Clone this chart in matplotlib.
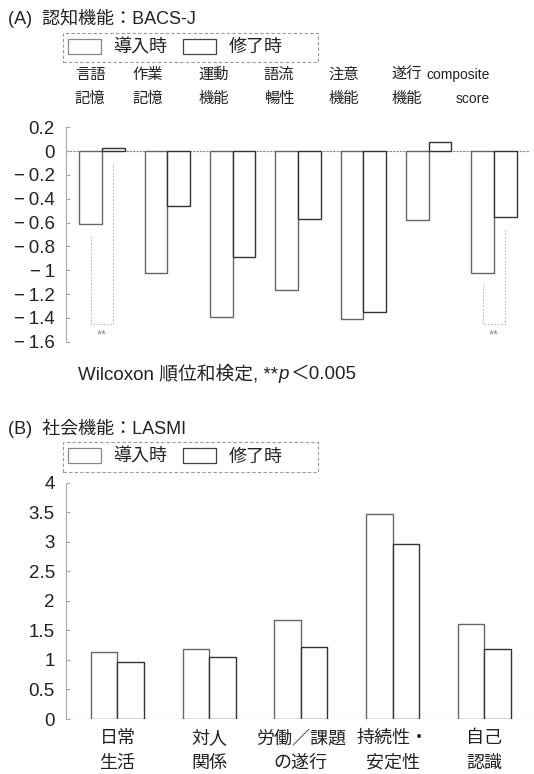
import matplotlib
matplotlib.use('Agg')
import matplotlib.pyplot as plt
import matplotlib.transforms as mtransforms
from matplotlib.patches import Rectangle
import numpy as np

plt.rcParams['font.family'] = ['Liberation Sans', 'Noto Sans CJK JP', 'DejaVu Sans']

# ---------------- data ----------------
legend_labels = ['導入時', '修了時']

cog_title = '(A)  認知機能：BACS-J'
cog_top = ['言語', '作業', '運動', '語流', '注意', '遂行', 'composite']
cog_bottom = ['記憶', '記憶', '機能', '暢性', '機能', '機能', 'score']
cog_pre = [-0.61, -1.02, -1.39, -1.17, -1.41, -0.58, -1.02]
cog_post = [0.03, -0.46, -0.89, -0.57, -1.35, 0.08, -0.55]
cog_sig = [0, 6]
cog_sig_level = -1.45
cog_yticks = [0.2, 0, -0.2, -0.4, -0.6, -0.8, -1, -1.2, -1.4, -1.6]
cog_yticklabels = ['0.2', '0', '\u2212\u20090.2', '\u2212\u20090.4', '\u2212\u20090.6',
                   '\u2212\u20090.8', '\u2212\u20091', '\u2212\u20091.2',
                   '\u2212\u20091.4', '\u2212\u20091.6']
cog_note_parts = ['Wilcoxon 順位和検定, **', 'p', '＜0.005']

soc_title = '(B)  社会機能：LASMI'
soc_top = ['日常', '対人', '労働／課題', '持続性・', '自己']
soc_bottom = ['生活', '関係', 'の遂行', '安定性', '認識']
soc_pre = [1.13, 1.18, 1.67, 3.47, 1.60]
soc_post = [0.96, 1.05, 1.22, 2.97, 1.19]
soc_yticks = [0, 0.5, 1, 1.5, 2, 2.5, 3, 3.5, 4]
soc_yticklabels = ['0', '0.5', '1', '1.5', '2', '2.5', '3', '3.5', '4']

# ---------------- style ----------------
W, H = 534, 774
TXT = '#222222'
PRE_EC = '#666666'
POST_EC = '#333333'
AX_C = '#aaaaaa'

fig = plt.figure(figsize=(W / 100, H / 100), dpi=100)
fig.patch.set_facecolor('white')


def fx(px):
    return px / W


def fy(py):
    return 1 - py / H


def style_axis(ax, yticks, ylabels):
    for s in ['top', 'right', 'bottom']:
        ax.spines[s].set_visible(False)
    ax.spines['left'].set_color(AX_C)
    ax.spines['left'].set_linewidth(0.8)
    ax.spines['left'].set_linestyle((0, (1.5, 1)))
    ax.set_yticks(yticks)
    ax.set_yticklabels(ylabels)
    ax.tick_params(axis='y', direction='in', length=3, color=AX_C,
                   labelsize=13.5, labelcolor=TXT, pad=8)
    ax.axhline(0, color='#888888', lw=0.8, ls=(0, (2, 1)), zorder=1)


def legend_box(y_top, y_bot):
    rect = Rectangle((fx(63), fy(y_bot)), fx(318) - fx(63), fy(y_top) - fy(y_bot),
                     fill=False, ls=(0, (3, 2)), ec='#999999', lw=0.8,
                     transform=fig.transFigure, figure=fig)
    fig.patches.append(rect)
    handles = [Rectangle((0, 0), 1, 1, fc='white', ec='#888888', lw=0.9),
               Rectangle((0, 0), 1, 1, fc='white', ec='#444444', lw=0.9)]
    fig.legend(handles, legend_labels, loc='center left',
               bbox_to_anchor=(fx(68), fy((y_top + y_bot) / 2)),
               ncol=2, frameon=False, handlelength=1.8, handleheight=0.9,
               handletextpad=0.7, columnspacing=0.9, fontsize=13,
               borderaxespad=0, borderpad=0, labelcolor=TXT)


# ---------------- panel A ----------------
fig.text(fx(8), fy(18), cog_title, fontsize=13, color=TXT, va='center', ha='left')
legend_box(33, 62)

axA = fig.add_axes([fx(66), fy(341.7), fx(530) - fx(66), fy(127.3) - fy(341.7)])
xa = np.arange(len(cog_pre))
wa = 0.347
axA.bar(xa - wa / 2, cog_pre, width=wa, facecolor='white', edgecolor=PRE_EC, lw=1.0, zorder=2)
axA.bar(xa + wa / 2, cog_post, width=wa, facecolor='white', edgecolor=POST_EC, lw=1.0, zorder=2)
axA.set_xlim(-0.55, len(cog_pre) - 0.45)
axA.set_ylim(-1.6, 0.2)
axA.set_xticks([])
style_axis(axA, cog_yticks, cog_yticklabels)

for i in cog_sig:
    xl, xr = i - wa / 2, i + wa / 2
    yl = min(cog_pre[i], 0) - 0.1
    yr = min(cog_post[i], 0) - 0.1
    axA.plot([xl, xl, xr, xr], [yl, cog_sig_level, cog_sig_level, yr],
             color='#bbbbbb', lw=0.8, ls=(0, (1.5, 1.5)), zorder=1)
    axA.text(i, cog_sig_level - 0.1, '**', ha='center', va='center',
             fontsize=9, color='#888888')

trA = mtransforms.blended_transform_factory(axA.transData, fig.transFigure)
for i, (t, b) in enumerate(zip(cog_top, cog_bottom)):
    fs = 10 if t.isascii() else 11
    if i == 0:
        xoff = 0.05
    elif i == 5:
        xoff = -0.1
    else:
        xoff = -0.06
    axA.text(i + xoff, fy(75), t, transform=trA, ha='right', va='center',
             fontsize=fs, color=TXT)
    axA.text(i + xoff, fy(99), b, transform=trA, ha='right', va='center',
             fontsize=fs, color=TXT)

# footnote, built from pieces sharing one baseline
renderer = fig.canvas.get_renderer()
x_cur = fx(78)
y_base = fy(379)
for k, part in enumerate(cog_note_parts):
    t = fig.text(x_cur, y_base, part, fontsize=13.5, color=TXT, va='baseline', ha='left',
                 style='italic' if part == 'p' else 'normal')
    bb = t.get_window_extent(renderer=renderer)
    x_cur = bb.x1 / fig.bbox.width + (1.5 / W if part == 'p' else 0)

# ---------------- panel B ----------------
fig.text(fx(8), fy(428), soc_title, fontsize=13, color=TXT, va='center', ha='left')
legend_box(442, 472)

axB = fig.add_axes([fx(66), fy(719), fx(534) - fx(66), fy(482.7) - fy(719)])
xb = np.arange(len(soc_pre))
wb = 0.289
axB.bar(xb - wb / 2, soc_pre, width=wb, facecolor='white', edgecolor=PRE_EC, lw=1.0, zorder=2)
axB.bar(xb + wb / 2, soc_post, width=wb, facecolor='white', edgecolor=POST_EC, lw=1.0, zorder=2)
axB.set_xlim(-0.56, -0.56 + (534 - 66) / 91.75)
axB.set_ylim(0, 4)
style_axis(axB, soc_yticks, soc_yticklabels)
axB.set_xticks(xb)
axB.set_xticklabels([t + '\n' + b for t, b in zip(soc_top, soc_bottom)],
                    fontsize=13, color=TXT, linespacing=1.6)
axB.tick_params(axis='x', length=0, pad=8)

fig.savefig('out.png', dpi=100, facecolor='white')
